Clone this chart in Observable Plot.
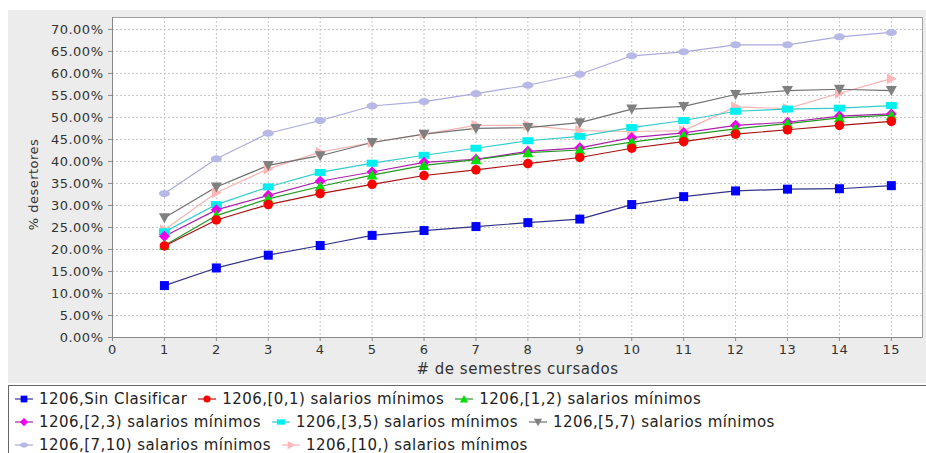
<!DOCTYPE html>
<html><head><meta charset="utf-8">
<script src="https://cdn.jsdelivr.net/npm/d3@7"></script>
<script src="https://cdn.jsdelivr.net/npm/@observablehq/plot@0.6"></script>
<style>
body{margin:0;background:#fff;}
#wrap{position:relative;width:926px;height:453px;overflow:hidden;background:#fff;font-family:"DejaVu Sans",sans-serif;}
#panel{position:absolute;left:8px;top:10px;width:918px;height:373px;background:#ececec;}
#chart{position:absolute;left:0;top:0;}
#legend{position:absolute;left:8px;top:385px;width:930px;height:80px;border:1px solid #666;box-sizing:border-box;background:#fff;}
.row{position:absolute;left:3px;height:23px;display:flex;align-items:center;white-space:nowrap;}
.item{display:flex;align-items:center;margin-right:8px;}
.item svg{margin-right:3px;}
.item span{font-size:15px;letter-spacing:0.45px;color:#222;}
</style></head>
<body>
<div id="wrap"><div id="panel"></div><div id="chart"></div><div id="legend"></div></div>
<script>
const semesters = [1,2,3,4,5,6,7,8,9,10,11,12,13,14,15];
const xTicks = [0,1,2,3,4,5,6,7,8,9,10,11,12,13,14,15];
const yTicks = [0,5,10,15,20,25,30,35,40,45,50,55,60,65,70];
const seriesNames = [
  "1206,Sin Clasificar",
  "1206,[0,1) salarios mínimos",
  "1206,[1,2) salarios mínimos",
  "1206,[2,3) salarios mínimos",
  "1206,[3,5) salarios mínimos",
  "1206,[5,7) salarios mínimos",
  "1206,[7,10) salarios mínimos",
  "1206,[10,) salarios mínimos"
];
const sinClasificar = [11.8,15.8,18.7,20.9,23.2,24.3,25.2,26.1,26.9,30.2,32.0,33.3,33.7,33.8,34.5];
const sal0a1  = [20.8,26.7,30.2,32.7,34.8,36.8,38.1,39.5,40.9,43.0,44.5,46.2,47.2,48.2,49.1];
const sal1a2  = [20.9,27.7,31.5,34.3,36.9,39.1,40.4,42.0,42.6,44.4,45.9,47.4,48.6,49.9,50.5];
const sal2a3  = [23.0,29.0,32.3,35.5,37.6,39.8,40.5,42.3,43.1,45.4,46.5,48.2,48.9,50.3,50.8];
const sal3a5  = [24.0,30.2,34.2,37.5,39.6,41.4,43.0,44.7,45.7,47.7,49.3,51.4,51.9,52.1,52.7];
const sal5a7  = [27.2,34.2,39.1,41.3,44.3,46.2,47.5,47.7,48.8,51.9,52.5,55.2,56.1,56.4,56.1];
const sal7a10 = [32.7,40.6,46.4,49.3,52.6,53.6,55.4,57.3,59.8,64.0,64.9,66.5,66.5,68.3,69.3];
const sal10   = [24.5,32.9,38.3,42.1,44.3,46.2,48.2,48.2,47.0,46.8,47.0,52.4,52.0,55.5,58.8];
const seriesValues = [sinClasificar, sal0a1, sal1a2, sal2a3, sal3a5, sal5a7, sal7a10, sal10];
const fillColors = ["#0000ff","#ff0000","#00e000","#ee00ee","#00f0f0","#808080","#b8b8e6","#ffb8b8"];
const lineColors = ["#333388","#aa1111","#229922","#aa22aa","#33cccc","#707070","#aaaadc","#f4b4b4"];
const legendRows = [[0,1,2],[3,4,5],[6,7]];

// marker shapes (JFreeChart-like defaults)
function ellipse(c, rx, ry){ const n=24; for(let k=0;k<=n;k++){const a=2*Math.PI*k/n; const px=rx*Math.cos(a), py=ry*Math.sin(a); k?c.lineTo(px,py):c.moveTo(px,py);} c.closePath(); }
function poly(c, pts){ pts.forEach((p,k)=>k?c.lineTo(p[0],p[1]):c.moveTo(p[0],p[1])); c.closePath(); }
const shapeFns = [
  (c,s)=>c.rect(-4.5*s,-4.5*s,9*s,9*s),
  (c,s)=>{c.moveTo(4.8*s,0);c.arc(0,0,4.8*s,0,2*Math.PI);},
  (c,s)=>poly(c,[[0,-5.5*s],[5.5*s,4.5*s],[-5.5*s,4.5*s]]),
  (c,s)=>poly(c,[[0,-5.5*s],[5.5*s,0],[0,5.5*s],[-5.5*s,0]]),
  (c,s)=>c.rect(-5.5*s,-3.5*s,11*s,7*s),
  (c,s)=>poly(c,[[0,5.5*s],[5.5*s,-4.5*s],[-5.5*s,-4.5*s]]),
  (c,s)=>ellipse(c,5.5*s,3.5*s),
  (c,s)=>poly(c,[[5.5*s,0],[-4.5*s,-5.5*s],[-4.5*s,5.5*s]])
];
const symbolOf = i => ({draw(ctx){ shapeFns[i](ctx,1); }});

const table = seriesNames.flatMap((name,i)=>semesters.map((s,j)=>({series:name, idx:i, semester:s, value:seriesValues[i][j]})));
const order = d3.range(seriesNames.length).reverse();

const gridStyle = {stroke:"#c4c4c4", strokeOpacity:1, strokeDasharray:"2,2"};
const chart = Plot.plot({
  width:926, height:380,
  marginLeft:112, marginRight:4, marginTop:17, marginBottom:43,
  x:{domain:[0,15.6]},
  y:{domain:[0,72.7]},
  style:{fontFamily:"DejaVu Sans", fontSize:"13px", letterSpacing:"0.5px", background:"transparent", color:"#444"},
  marks:[
    Plot.frame({fill:"white", stroke:"none"}),
    Plot.gridY(yTicks.filter(d=>d>0), gridStyle),
    Plot.gridX(xTicks.filter(d=>d>0), gridStyle),
    Plot.frame({stroke:"#a0a0a0"}),
    ...order.map(i=>Plot.line(table.filter(d=>d.idx===i), {x:"semester", y:"value", stroke:lineColors[i], strokeWidth:1.2})),
    ...order.map(i=>Plot.dot(table.filter(d=>d.idx===i), {x:"semester", y:"value", symbol:symbolOf(i), fill:fillColors[i], stroke:"none"})),
    Plot.axisY(yTicks, {tickFormat:d=>d.toFixed(2)+"%", tickSize:4, tickPadding:5, stroke:"#888", fill:"#333", label:null}),
    Plot.axisX(xTicks, {tickSize:4, tickPadding:3, stroke:"#888", fill:"#333", label:null}),
    Plot.ruleX([0], {stroke:"#888"}),
    Plot.ruleY([0], {stroke:"#888"}),
    Plot.text(["% desertores"], {frameAnchor:"left", textAnchor:"middle", rotate:-90, dx:-79, dy:7, fontSize:13, fill:"#333"}),
    Plot.text(["# de semestres cursados"], {frameAnchor:"bottom", lineAnchor:"middle", dy:32, fontSize:15, fill:"#333"})
  ]
});
document.getElementById("chart").appendChild(chart);

// legend
const legend = d3.select("#legend");
legendRows.forEach((row,r)=>{
  const rowDiv = legend.append("div").attr("class","row").style("top",(r*23+1)+"px");
  row.forEach(i=>{
    const item = rowDiv.append("div").attr("class","item");
    const svg = item.append("svg").attr("width",24).attr("height",14);
    svg.append("line").attr("x1",3).attr("x2",21).attr("y1",7).attr("y2",7).attr("stroke",lineColors[i]).attr("stroke-width",1.2);
    const p = d3.path(); shapeFns[i](p,0.75);
    svg.append("path").attr("d",p.toString()).attr("transform","translate(12,7)").attr("fill",fillColors[i]);
    item.append("span").text(seriesNames[i]);
  });
});
</script>
</body></html>
